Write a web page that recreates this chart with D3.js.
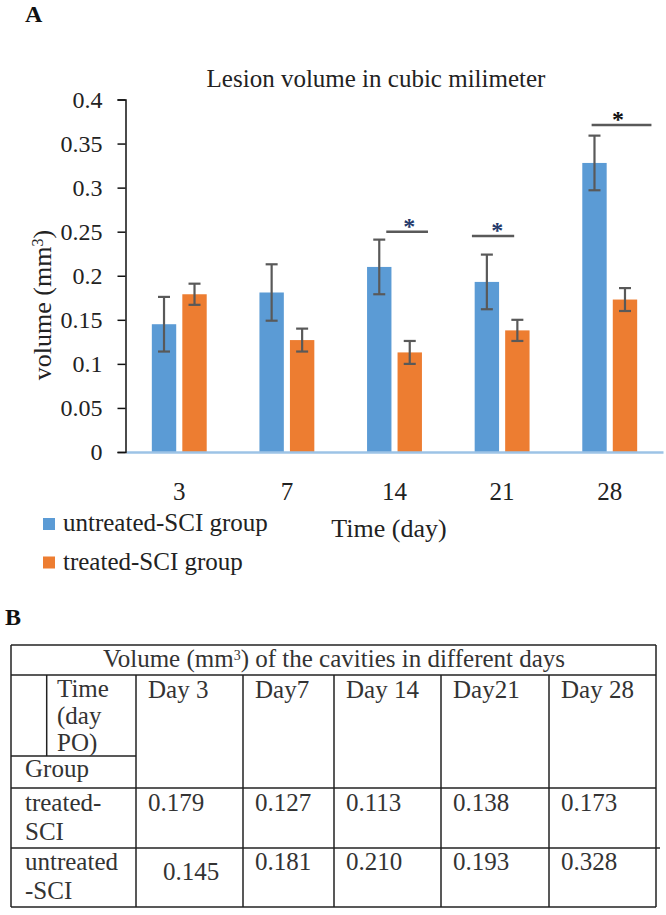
<!DOCTYPE html>
<html><head><meta charset="utf-8">
<script src="https://cdn.jsdelivr.net/npm/d3@7"></script>
<style>body{margin:0;background:#fff}svg{display:block}svg text{font-family:"Liberation Serif","Times New Roman",serif}</style>
</head><body><svg id="c" width="666" height="915"></svg>
<script>
// ---------- data ----------
const categories = ["3", "7", "14", "21", "28"];
const seriesNames = ["untreated-SCI group", "treated-SCI group"];
const untreated = [0.145, 0.181, 0.210, 0.193, 0.328];
const treated = [0.179, 0.127, 0.113, 0.138, 0.173];
const untreatedErr = [0.031, 0.032, 0.031, 0.031, 0.031];
const treatedErr = [0.012, 0.013, 0.013, 0.012, 0.013];
const yTicks = [0, 0.05, 0.1, 0.15, 0.2, 0.25, 0.3, 0.35, 0.4];
const sigDays = ["14", "21", "28"];
const sigLevel = [0.25, 0.245, 0.371];
const tableDays = ["Day  3", "Day7", "Day 14", "Day21", "Day 28"];

// ---------- styles ----------
const BLUE = "#5B9BD5", ORANGE = "#ED7D31", ERR = "#595959", AXISBLUE = "#9DC3E6";

const svg = d3.select("#c");
svg.append("rect").attr("width", 666).attr("height", 915).attr("fill", "#fff");

// panel label A
svg.append("text").attr("x", 25).attr("y", 22).text("A")
  .attr("font-weight", "bold").attr("font-size", 24).attr("fill", "#111");

// title
svg.append("text").attr("x", 376).attr("y", 87).attr("text-anchor", "middle")
  .attr("font-size", 25).attr("fill", "#222")
  .text("Lesion volume in cubic milimeter");

// scales
const y = d3.scaleLinear().domain([0, 0.4]).range([452, 99.5]);
const x0 = d3.scaleBand().domain(categories).range([126, 663]).paddingInner(0.49).paddingOuter(0.24);
const x1 = d3.scaleBand().domain(["u", "t"]).range([0, x0.bandwidth()]).paddingInner(0.2);

// bars
const rows = categories.map((c, i) => ({
  c, vals: [
    {k: "u", v: untreated[i], e: untreatedErr[i], col: BLUE},
    {k: "t", v: treated[i], e: treatedErr[i], col: ORANGE}
  ]
}));
const grp = svg.append("g").selectAll("g.cat").data(rows).join("g").attr("class", "cat")
  .attr("transform", d => `translate(${x0(d.c)},0)`);
grp.selectAll("rect").data(d => d.vals).join("rect")
  .attr("x", d => x1(d.k)).attr("width", x1.bandwidth())
  .attr("y", d => y(d.v)).attr("height", d => y(0) - y(d.v))
  .attr("fill", d => d.col);

// error bars
const eb = grp.selectAll("g.err").data(d => d.vals).join("g").attr("class", "err")
  .attr("stroke", ERR).attr("stroke-width", 2.2);
const cx = d => x1(d.k) + x1.bandwidth() / 2;
eb.append("line").attr("x1", cx).attr("x2", cx)
  .attr("y1", d => y(d.v + d.e)).attr("y2", d => y(d.v - d.e));
[1, -1].forEach(s => {
  eb.append("line").attr("x1", d => cx(d) - 6).attr("x2", d => cx(d) + 6)
    .attr("y1", d => y(d.v + s * d.e)).attr("y2", d => y(d.v + s * d.e));
});

// x axis
const xAxis = svg.append("g").attr("transform", `translate(0,${y(0)})`)
  .call(d3.axisBottom(x0).tickSize(0).tickPadding(30));
xAxis.attr("font-family", null);
xAxis.select(".domain").attr("stroke", AXISBLUE).attr("stroke-width", 2.5);
xAxis.selectAll("text").attr("font-size", 25).attr("fill", "#222");

// y axis
const yAxis = svg.append("g").attr("transform", "translate(125.5,0)")
  .call(d3.axisLeft(y).tickValues(yTicks).tickSize(8).tickPadding(15).tickFormat(d => String(d)));
yAxis.attr("font-family", null);
yAxis.select(".domain").attr("stroke", "#111").attr("stroke-width", 1.5);
yAxis.selectAll(".tick line").attr("stroke", "#111").attr("stroke-width", 1.5);
yAxis.selectAll("text").attr("font-size", 24).attr("fill", "#222");

// axis titles
const yt = svg.append("text").attr("transform", "translate(51,305) rotate(-90)")
  .attr("text-anchor", "middle").attr("font-size", 26).attr("fill", "#222");
yt.append("tspan").text("volume (mm");
yt.append("tspan").attr("baseline-shift", "super").attr("font-size", 16).text("3");
yt.append("tspan").text(")");

svg.append("text").attr("x", 389).attr("y", 537).attr("text-anchor", "middle")
  .attr("font-size", 26).attr("fill", "#222").text("Time (day)");

// significance marks
const sigLayout = {"14": [0.35, 1.11, 0.77], "21": [-0.05, 0.72, 0.41], "28": [0.17, 1.26, 0.65]};
const sigData = sigDays.map((d, i) => ({d, lvl: sigLevel[i], L: sigLayout[d]}));
const sg = svg.append("g");
sg.selectAll("line").data(sigData).join("line")
  .attr("x1", d => x0(d.d) + d.L[0] * x0.bandwidth()).attr("x2", d => x0(d.d) + d.L[1] * x0.bandwidth())
  .attr("y1", d => y(d.lvl)).attr("y2", d => y(d.lvl))
  .attr("stroke", ERR).attr("stroke-width", 2.5);
sg.selectAll("text").data(sigData).join("text")
  .attr("x", d => x0(d.d) + d.L[2] * x0.bandwidth()).attr("y", d => y(d.lvl) + 2)
  .attr("text-anchor", "middle").attr("font-size", 24).attr("font-weight", "bold")
  .attr("fill", d => d.d === "28" ? "#111" : "#243a6b").text("*");

// legend
const leg = svg.append("g").selectAll("g").data(seriesNames).join("g")
  .attr("transform", (d, i) => `translate(43,${518 + i * 38.5})`);
leg.append("rect").attr("width", 12).attr("height", 12).attr("fill", (d, i) => i === 0 ? BLUE : ORANGE);
leg.append("text").attr("x", 20).attr("y", 13).attr("font-size", 25)
  .attr("fill", "#222").text(d => d);

// ---------- table B ----------
svg.append("text").attr("x", 5).attr("y", 625).text("B")
  .attr("font-weight", "bold").attr("font-size", 24).attr("fill", "#111");

const T = {left: 11, right: 656, top: 645, head: 675, sub: 756, r1: 788, r2: 848, bottom: 907, inner: 46.7,
  cols: [136, 243, 334, 441, 549, 656]};
const tb = svg.append("g").attr("fill", "#333");
const ls = tb.append("g").attr("stroke", "#222").attr("stroke-width", 1.5);
const hl = [[T.left, T.right, T.top], [T.left, T.right, T.head], [T.left, T.cols[0], T.sub],
  [T.left, T.right, T.r1], [T.left, T.right + 4, T.r2], [T.left, T.right, T.bottom]];
ls.selectAll("line.h").data(hl).join("line").attr("class", "h")
  .attr("x1", d => d[0]).attr("x2", d => d[1]).attr("y1", d => d[2]).attr("y2", d => d[2]);
const vl = [[T.left, T.top, T.bottom], [T.right, T.top, T.bottom], [T.inner, T.head, T.sub]]
  .concat(T.cols.slice(0, 5).map(c => [c, T.head, T.bottom]));
ls.selectAll("line.v").data(vl).join("line").attr("class", "v")
  .attr("x1", d => d[0]).attr("x2", d => d[0]).attr("y1", d => d[1]).attr("y2", d => d[2]);

const FS = 25;
const ht = tb.append("text").attr("x", 334).attr("y", 667).attr("text-anchor", "middle").attr("font-size", FS);
ht.append("tspan").text("Volume (mm");
ht.append("tspan").attr("baseline-shift", "super").attr("font-size", 14).text("3");
ht.append("tspan").text(") of the cavities in different days");

tb.selectAll("text.day").data(tableDays).join("text").attr("class", "day")
  .attr("x", (d, i) => T.cols[i] + 12).attr("y", 698).attr("font-size", FS).text(d => d);

["Time", "(day", "PO)"].forEach((t, i) => {
  tb.append("text").attr("x", 57).attr("y", 697 + i * 27).attr("font-size", FS).text(t);
});
tb.append("text").attr("x", 25).attr("y", 777).attr("font-size", FS).text("Group");

const gl = [["treated-", "SCI"], ["untreated", "-SCI"]];
gl.forEach((pair, r) => {
  pair.forEach((t, j) => {
    tb.append("text").attr("x", 25).attr("y", (r === 0 ? 811 : 870) + j * 29).attr("font-size", FS).text(t);
  });
});
const fmt = d3.format(".3f");
tb.selectAll("text.v1").data(treated).join("text").attr("class", "v1")
  .attr("x", (d, i) => T.cols[i] + 12).attr("y", 811).attr("font-size", FS).text(d => fmt(d));
tb.selectAll("text.v2").data(untreated).join("text").attr("class", "v2")
  .attr("x", (d, i) => T.cols[i] + (i === 0 ? 27 : 12)).attr("y", (d, i) => i === 0 ? 880 : 870)
  .attr("font-size", FS).text(d => fmt(d));
</script>
</body></html>
